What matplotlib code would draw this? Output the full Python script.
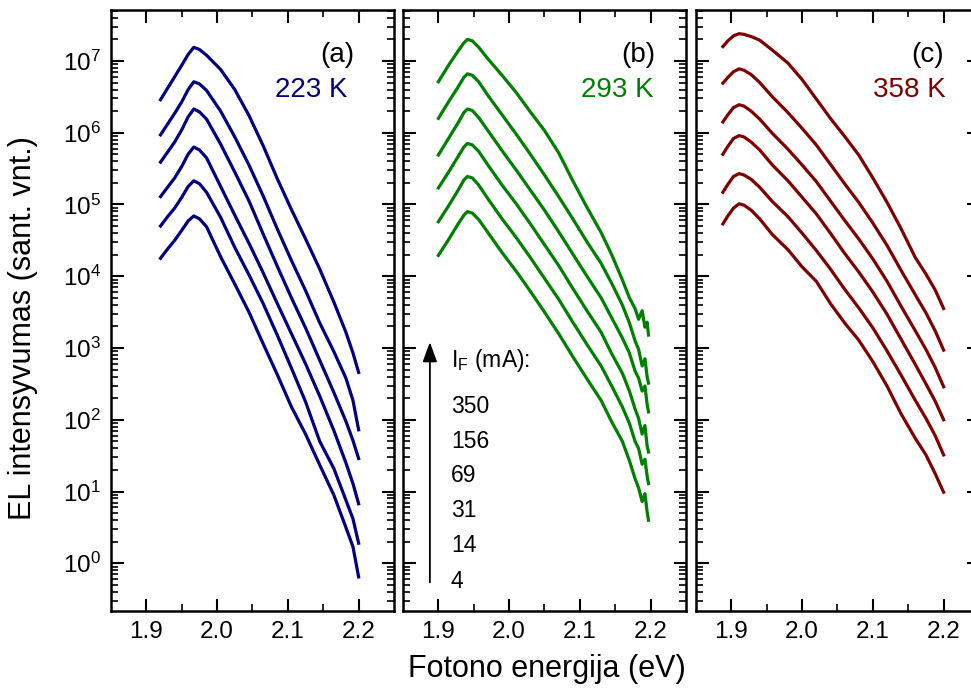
import numpy as np
import matplotlib
matplotlib.use("Agg")
import matplotlib.pyplot as plt
from matplotlib.ticker import LogLocator, FixedLocator, NullFormatter

plt.rcParams['font.family'] = ['Liberation Sans', 'DejaVu Sans']
plt.rcParams['mathtext.fontset'] = 'custom'
plt.rcParams['mathtext.rm'] = 'Liberation Sans'

# forward currents (mA), top curve first
currents = [350, 156, 69, 31, 14, 4]
x_ticks = [1.9, 2.0, 2.1, 2.2]
x_minor = [1.95, 2.05, 2.15]

# (a) 223 K -- photon energy (eV) and log10 of EL intensity
energy_a = [1.920, 1.930, 1.940, 1.950, 1.959, 1.967, 1.975, 1.985, 2.005, 2.025,
            2.045, 2.065, 2.085, 2.105, 2.125, 2.145, 2.165, 2.182, 2.192, 2.200]
loga_350 = [6.46, 6.62, 6.78, 6.94, 7.09, 7.19, 7.16, 7.08, 6.88, 6.60,
            6.24, 5.82, 5.36, 4.93, 4.52, 4.10, 3.64, 3.22, 2.93, 2.66]
loga_156 = [5.97, 6.12, 6.27, 6.43, 6.60, 6.71, 6.68, 6.59, 6.30, 5.94,
            5.55, 5.12, 4.66, 4.22, 3.80, 3.35, 2.95, 2.58, 2.27, 1.86]
loga_69 = [5.59, 5.73, 5.87, 6.04, 6.22, 6.33, 6.29, 6.19, 5.84, 5.45,
           5.05, 4.59, 4.14, 3.70, 3.28, 2.83, 2.38, 1.98, 1.71, 1.46]
loga_31 = [5.11, 5.24, 5.37, 5.53, 5.70, 5.80, 5.76, 5.65, 5.25, 4.85,
           4.46, 4.05, 3.62, 3.20, 2.78, 2.33, 1.85, 1.40, 1.11, 0.83]
loga_14 = [4.70, 4.83, 4.95, 5.10, 5.25, 5.33, 5.29, 5.17, 4.82, 4.40,
           4.02, 3.62, 3.18, 2.72, 2.25, 1.70, 1.32, 0.88, 0.62, 0.28]
loga_4 = [4.25, 4.38, 4.50, 4.64, 4.77, 4.84, 4.80, 4.69, 4.27, 3.89,
          3.50, 3.06, 2.63, 2.18, 1.80, 1.37, 0.95, 0.50, 0.23, -0.19]

# (b) 293 K
energy_b = [1.900, 1.915, 1.928, 1.936, 1.941, 1.948, 1.957, 1.970, 1.990, 2.010,
            2.030, 2.050, 2.070, 2.090, 2.110, 2.130, 2.145, 2.160, 2.170, 2.178,
            2.183, 2.188, 2.192, 2.195, 2.197]
logb_350 = [6.71, 6.95, 7.14, 7.25, 7.30, 7.28, 7.19, 7.03, 6.80, 6.56,
            6.29, 6.03, 5.72, 5.33, 4.96, 4.61, 4.30, 3.95, 3.70, 3.55,
            3.40, 3.52, 3.29, 3.36, 3.18]
logb_156 = [6.20, 6.44, 6.64, 6.77, 6.82, 6.80, 6.71, 6.52, 6.25, 5.98,
            5.70, 5.41, 5.11, 4.80, 4.48, 4.18, 3.90, 3.60, 3.35, 3.10,
            2.98, 2.75, 2.85, 2.60, 2.51]
logb_69 = [5.69, 5.93, 6.14, 6.28, 6.33, 6.31, 6.21, 6.03, 5.75, 5.48,
           5.20, 4.92, 4.62, 4.31, 4.00, 3.70, 3.42, 3.14, 2.93, 2.68,
           2.58, 2.40, 2.47, 2.22, 2.11]
logb_31 = [5.23, 5.46, 5.67, 5.80, 5.85, 5.83, 5.74, 5.55, 5.27, 5.01,
           4.73, 4.44, 4.15, 3.83, 3.52, 3.22, 2.92, 2.65, 2.40, 2.15,
           2.02, 1.80, 1.92, 1.64, 1.55]
logb_14 = [4.76, 4.99, 5.20, 5.34, 5.39, 5.37, 5.27, 5.08, 4.80, 4.54,
           4.26, 3.97, 3.68, 3.36, 3.05, 2.75, 2.47, 2.18, 1.95, 1.70,
           1.60, 1.38, 1.45, 1.22, 1.11]
logb_4 = [4.29, 4.52, 4.73, 4.85, 4.90, 4.88, 4.79, 4.61, 4.33, 4.07,
          3.79, 3.50, 3.20, 2.88, 2.57, 2.27, 1.97, 1.70, 1.43, 1.18,
          1.05, 0.86, 0.97, 0.72, 0.60]

# (c) 358 K
energy_c = [1.888, 1.895, 1.903, 1.911, 1.918, 1.928, 1.940, 1.958, 1.980, 2.000,
            2.020, 2.040, 2.060, 2.080, 2.100, 2.120, 2.140, 2.160, 2.175, 2.188, 2.200]
logc_350 = [7.20, 7.28, 7.35, 7.38, 7.37, 7.34, 7.29, 7.15, 6.97, 6.74,
            6.47, 6.20, 5.95, 5.69, 5.37, 5.03, 4.66, 4.26, 4.03, 3.81, 3.55]
logc_156 = [6.69, 6.77, 6.85, 6.89, 6.87, 6.81, 6.70, 6.50, 6.28, 6.06,
            5.83, 5.56, 5.29, 5.03, 4.74, 4.43, 4.08, 3.74, 3.49, 3.24, 2.97]
logc_69 = [6.15, 6.25, 6.35, 6.39, 6.37, 6.30, 6.19, 5.99, 5.77, 5.55,
           5.32, 5.05, 4.78, 4.52, 4.24, 3.93, 3.58, 3.24, 2.98, 2.73, 2.46]
logc_31 = [5.70, 5.81, 5.92, 5.96, 5.94, 5.87, 5.76, 5.55, 5.33, 5.10,
           4.87, 4.60, 4.32, 4.06, 3.78, 3.47, 3.12, 2.77, 2.50, 2.26, 2.00]
logc_14 = [5.17, 5.28, 5.39, 5.43, 5.41, 5.35, 5.24, 5.04, 4.83, 4.60,
           4.36, 4.10, 3.82, 3.56, 3.28, 2.96, 2.62, 2.27, 2.02, 1.78, 1.51]
logc_4 = [4.73, 4.84, 4.95, 5.01, 4.99, 4.92, 4.80, 4.58, 4.37, 4.13,
          3.93, 3.62, 3.35, 3.11, 2.81, 2.47, 2.08, 1.74, 1.51, 1.25, 0.99]

panels = [
    ("(a)", "223 K", "#000080", energy_a,
     [loga_350, loga_156, loga_69, loga_31, loga_14, loga_4]),
    ("(b)", "293 K", "#008000", energy_b,
     [logb_350, logb_156, logb_69, logb_31, logb_14, logb_4]),
    ("(c)", "358 K", "#800000", energy_c,
     [logc_350, logc_156, logc_69, logc_31, logc_14, logc_4]),
]

fig = plt.figure(figsize=(9.71, 6.90), dpi=100)
W, H = 971.0, 690.0
lefts = [111, 403, 696]
width = 283
top, bottom = 10, 611
label_pos = [(0.859, 0.837), (0.893, 0.884), (0.877, 0.883)]

axes = []
for i, (tag, temp, color, energy, curves) in enumerate(panels):
    ax = fig.add_axes([lefts[i] / W, (H - bottom) / H, width / W, (bottom - top) / H])
    axes.append(ax)
    for logs in curves:
        ax.plot(energy, 10 ** np.array(logs), color=color, lw=2.3,
                solid_joinstyle="round")
    ax.set_yscale("log")
    ax.set_xlim(1.85, 2.25)
    ax.set_ylim(10 ** -0.665, 10 ** 7.71)
    ax.xaxis.set_major_locator(FixedLocator(x_ticks))
    ax.xaxis.set_minor_locator(FixedLocator(x_minor))
    ax.yaxis.set_major_locator(LogLocator(base=10, numticks=20))
    ax.yaxis.set_minor_locator(LogLocator(base=10, subs=np.arange(2, 10), numticks=20))
    ax.yaxis.set_minor_formatter(NullFormatter())
    ax.tick_params(which="both", direction="in", top=True, right=True)
    ax.tick_params(which="major", length=9, width=1.5, labelsize=17.5, pad=7)
    ax.tick_params(which="minor", length=5, width=1.2)
    for sp in ax.spines.values():
        sp.set_linewidth(1.8)
    if i > 0:
        ax.tick_params(axis="y", labelleft=False)
    ax.text(label_pos[i][0], 0.925, tag, transform=ax.transAxes,
            ha="right", va="center", fontsize=20)
    ax.text(label_pos[i][1], 0.867, temp, transform=ax.transAxes,
            ha="right", va="center", fontsize=20, color=color)

# current legend in panel (b)
axb = axes[1]
axb.annotate("", xy=(0.095, 0.452), xytext=(0.095, 0.043), xycoords="axes fraction",
             arrowprops=dict(arrowstyle="-|>,head_length=0.6,head_width=0.22",
                             color="k", lw=1.3, mutation_scale=20))
axb.text(0.169, 0.4065, r"$\mathregular{I_F}$ (mA):", transform=axb.transAxes,
         ha="left", va="baseline", fontsize=16.5)
current_y = [0.329, 0.272, 0.214, 0.156, 0.098, 0.039]
for c, yy in zip(currents, current_y):
    axb.text(0.169, yy, str(c), transform=axb.transAxes,
             ha="left", va="baseline", fontsize=16.5)

fig.text(23.5 / W, (H - 328) / H, "EL intensyvumas (sant. vnt.)", rotation=90,
         ha="center", va="center", fontsize=22)
fig.text(547 / W, 13 / H, "Fotono energija (eV)", ha="center", va="baseline", fontsize=22)

fig.savefig("out.png", dpi=100)
